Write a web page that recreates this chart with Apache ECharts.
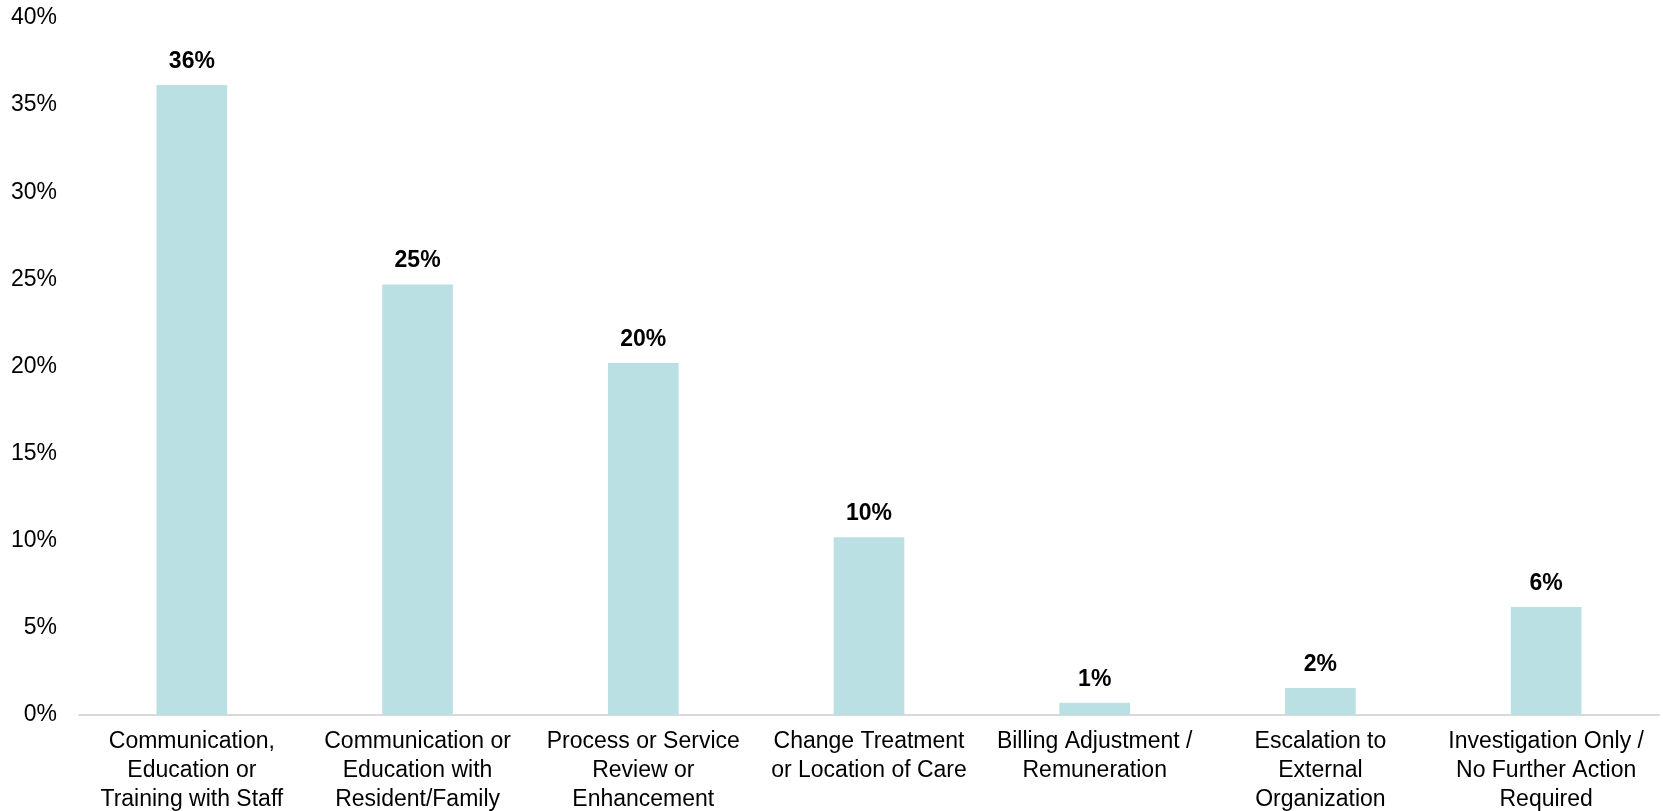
<!DOCTYPE html>
<html>
<head>
<meta charset="utf-8">
<script src="https://cdn.jsdelivr.net/npm/echarts@6/dist/echarts.min.js"></script>
<style>
html,body{margin:0;padding:0;background:#fff;}
#chart{width:1663px;height:811px;}
</style>
</head>
<body>
<div id="chart"></div>
<script>
const categories = [
  "Communication,\nEducation or\nTraining with Staff",
  "Communication or\nEducation with\nResident/Family",
  "Process or Service\nReview or\nEnhancement",
  "Change Treatment\nor Location of Care",
  "Billing Adjustment /\nRemuneration",
  "Escalation to\nExternal\nOrganization",
  "Investigation Only /\nNo Further Action\nRequired"
];
const values = [36.15, 24.7, 20.2, 10.2, 0.7, 1.55, 6.2];
const yTicks = { min: 0, max: 40, interval: 5 };

const chart = echarts.init(document.getElementById('chart'), null, {renderer: 'canvas'});
chart.setOption({
  animation: false,
  backgroundColor: '#ffffff',
  grid: { left: 79, right: 4, top: 18, bottom: 96, containLabel: false, outerBoundsMode: 'none' },
  xAxis: {
    type: 'category',
    data: categories,
    axisLine: { show: true, lineStyle: { color: '#D9D9D9', width: 2 } },
    axisTick: { show: false },
    axisLabel: {
      interval: 0,
      color: '#000',
      fontFamily: 'Liberation Sans, Arial, sans-serif',
      fontSize: 23,
      lineHeight: 29,
      margin: 12,
      align: 'center'
    }
  },
  yAxis: {
    type: 'value',
    min: yTicks.min, max: yTicks.max, interval: yTicks.interval,
    axisLine: { show: false },
    axisTick: { show: false },
    splitLine: { show: false },
    axisLabel: {
      color: '#000',
      fontFamily: 'Liberation Sans, Arial, sans-serif',
      fontSize: 23,
      margin: 22,
      padding: [6, 0, 0, 0],
      formatter: v => v + '%'
    }
  },
  series: [{
    type: 'bar',
    data: values,
    barCategoryGap: '68.7%',
    itemStyle: { color: '#BAE0E3' },
    label: {
      show: true,
      position: 'top',
      distance: 12,
      color: '#000',
      fontWeight: 'bold',
      fontFamily: 'Liberation Sans, Arial, sans-serif',
      fontSize: 23,
      formatter: p => Math.round(p.value) + '%'
    }
  }]
});
</script>
</body>
</html>
